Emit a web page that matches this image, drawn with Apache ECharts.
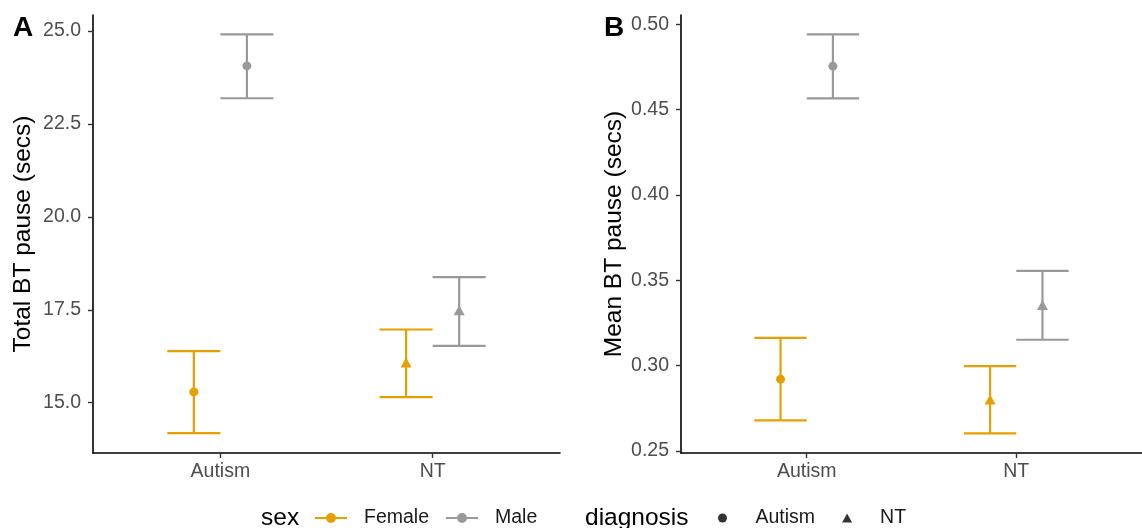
<!DOCTYPE html>
<html>
<head>
<meta charset="utf-8">
<script src="https://cdn.jsdelivr.net/npm/echarts@6/dist/echarts.min.js"></script>
<style>
  html, body { margin: 0; padding: 0; background: #fff; }
  #chart { width: 1142px; height: 528px; }
</style>
</head>
<body>
<div id="chart"></div>
<script>
// categories on x and the point shape used for each diagnosis
const categories = ['Autism', 'NT'];
const diagnosisSymbols = ['circle', 'triangle'];

// [mean, lower, upper] for each category (Autism, NT)
const totalFemale = [[15.29, 14.18, 16.39], [16.08, 15.15, 16.97]];
const totalMale = [[24.06, 23.19, 24.91], [17.49, 16.53, 18.38]];
const meanFemale = [[0.292, 0.2678, 0.3162], [0.280, 0.2602, 0.2996]];
const meanMale = [[0.4755, 0.4566, 0.4941], [0.3354, 0.3151, 0.3555]];

const totalTicks = [15, 17.5, 20, 22.5, 25];
const meanTicks = [0.25, 0.30, 0.35, 0.40, 0.45, 0.50];

const ORANGE = '#E69F00';
const GREY = '#999999';
const FONT = '"Liberation Sans", Arial, sans-serif';
const DODGE = 0.125;  // half of dodge width
const CAP = 0.125;    // half of errorbar width

// line with a dot in the middle, for the sex legend
const LINE_DOT = 'path://M0,4L11,4L11,6L0,6Z M21,4L32,4L32,6L21,6Z M11,5A5,5 0 1,1 21,5A5,5 0 1,1 11,5Z';

function errorbars(name, color, rows, offset, idx) {
    return {
        name: name,
        type: 'custom',
        xAxisIndex: idx,
        yAxisIndex: idx,
        itemStyle: { color: color },
        silent: true,
        z: 2,
        data: rows.map((r, i) => [i + 1 + offset, r[1], r[2]]),
        renderItem: function(params, api) {
            var x = api.value(0);
            var lo = api.coord([x, api.value(1)]);
            var hi = api.coord([x, api.value(2)]);
            var hw = api.size([CAP, 0])[0];
            var style = { stroke: color, lineWidth: 2.2, fill: null };
            return {
                type: 'group',
                children: [
                    { type: 'line', shape: { x1: lo[0], y1: lo[1], x2: hi[0], y2: hi[1] }, style: style },
                    { type: 'line', shape: { x1: lo[0] - hw, y1: lo[1], x2: lo[0] + hw, y2: lo[1] }, style: style },
                    { type: 'line', shape: { x1: hi[0] - hw, y1: hi[1], x2: hi[0] + hw, y2: hi[1] }, style: style }
                ]
            };
        }
    };
}

function points(name, color, rows, offset, idx) {
    return {
        name: name,
        type: 'scatter',
        xAxisIndex: idx,
        yAxisIndex: idx,
        silent: true,
        z: 3,
        itemStyle: { color: color, opacity: 1 },
        data: rows.map((r, i) => ({
            value: [i + 1 + offset, r[0]],
            symbol: diagnosisSymbols[i],
            symbolSize: diagnosisSymbols[i] === 'triangle' ? [11, 10] : 9
        }))
    };
}

function xAxis(idx) {
    return {
        gridIndex: idx,
        type: 'value',
        min: 0.4,
        max: 2.6,
        splitLine: { show: false },
        axisLine: { onZero: false, lineStyle: { color: '#000', width: 1.6 } },
        axisTick: { customValues: [1, 2], length: 5, lineStyle: { color: '#333', width: 1.4 } },
        axisLabel: {
            customValues: [1, 2],
            formatter: v => categories[Math.round(v) - 1],
            color: '#4d4d4d',
            fontSize: 19.5,
            fontFamily: FONT,
            margin: 9
        }
    };
}

function yAxis(idx, name, min, max, ticks, digits, gap) {
    return {
        gridIndex: idx,
        type: 'value',
        min: min,
        max: max,
        name: name,
        nameLocation: 'middle',
        nameGap: gap,
        nameTextStyle: { color: '#000', fontSize: 24.5, fontFamily: FONT },
        splitLine: { show: false },
        axisLine: { show: true, onZero: false, lineStyle: { color: '#000', width: 1.6 } },
        axisTick: { show: true, customValues: ticks, length: 5, lineStyle: { color: '#333', width: 1.4 } },
        axisLabel: {
            customValues: ticks,
            formatter: v => v.toFixed(digits),
            color: '#4d4d4d',
            fontSize: 19.5,
            fontFamily: FONT,
            margin: 12
        }
    };
}

var myChart = echarts.init(document.getElementById('chart'));

let option = {
    animation: false,
    backgroundColor: '#fff',
    grid: [
        { left: 93, top: 15, width: 467, height: 438 },
        { left: 681, top: 15, width: 467, height: 438 }
    ],
    xAxis: [xAxis(0), xAxis(1)],
    yAxis: [
        yAxis(0, 'Total BT pause (secs)', 13.647, 25.43, totalTicks, 1, 57),
        yAxis(1, 'Mean BT pause (secs)', 0.2487, 0.5055, meanTicks, 2, 53)
    ],
    legend: [{
        data: [{ name: 'Female', icon: LINE_DOT }, { name: 'Male', icon: LINE_DOT }],
        left: 315,
        top: 508,
        padding: 0,
        itemWidth: 32,
        itemHeight: 10,
        itemGap: 17,
        selectedMode: false,
        textStyle: { color: '#1a1a1a', fontSize: 19.5, fontFamily: FONT, padding: [0, 0, 0, 12] }
    }, {
        data: [{ name: 'Autism', icon: 'circle' }, { name: 'NT', icon: 'triangle' }],
        left: 718,
        top: 508,
        padding: 0,
        itemWidth: 10,
        itemHeight: 9,
        itemGap: 27,
        selectedMode: false,
        textStyle: { color: '#1a1a1a', fontSize: 19.5, fontFamily: FONT, padding: [0, 0, 0, 23] }
    }],
    graphic: [
        { type: 'text', left: 13, top: 14, style: { text: 'A', fontSize: 28, fontWeight: 'bold', fill: '#000', fontFamily: FONT } },
        { type: 'text', left: 604, top: 14, style: { text: 'B', fontSize: 28, fontWeight: 'bold', fill: '#000', fontFamily: FONT } },
        { type: 'text', left: 261, top: 506, style: { text: 'sex', fontSize: 24.5, fill: '#000', fontFamily: FONT } },
        { type: 'text', left: 585, top: 506, style: { text: 'diagnosis', fontSize: 24.5, fill: '#000', fontFamily: FONT } }
    ],
    series: [
        errorbars('Female', ORANGE, totalFemale, -DODGE, 0),
        errorbars('Male', GREY, totalMale, DODGE, 0),
        points('Female', ORANGE, totalFemale, -DODGE, 0),
        points('Male', GREY, totalMale, DODGE, 0),
        errorbars('Female', ORANGE, meanFemale, -DODGE, 1),
        errorbars('Male', GREY, meanMale, DODGE, 1),
        points('Female', ORANGE, meanFemale, -DODGE, 1),
        points('Male', GREY, meanMale, DODGE, 1),
        // only for the diagnosis legend
        { name: 'Autism', type: 'scatter', symbol: 'circle', itemStyle: { color: '#000' }, data: [] },
        { name: 'NT', type: 'scatter', symbol: 'triangle', itemStyle: { color: '#000' }, data: [] }
    ]
};

myChart.setOption(option);
</script>
</body>
</html>
